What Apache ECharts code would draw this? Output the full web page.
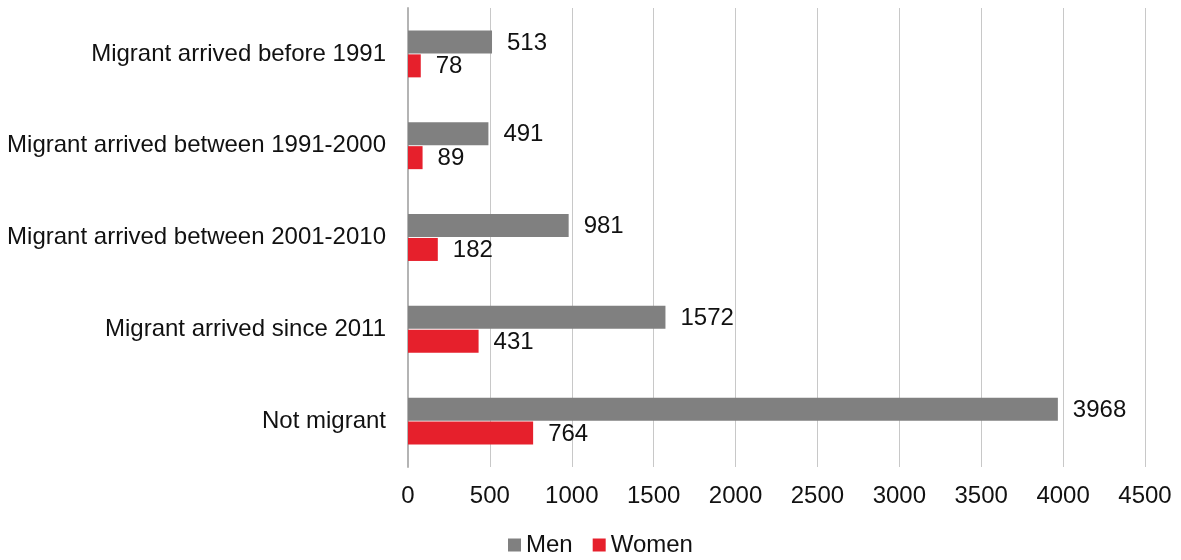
<!DOCTYPE html>
<html>
<head>
<meta charset="utf-8">
<script src="https://cdn.jsdelivr.net/npm/echarts@6/dist/echarts.min.js"></script>
<style>
  html, body { margin: 0; padding: 0; background: #ffffff; }
  #chart { width: 1181px; height: 560px; }
</style>
</head>
<body>
<div id="chart"></div>
<script>
// Employment counts by migration status, split by sex
const categories = [
  'Migrant arrived before 1991',
  'Migrant arrived between 1991-2000',
  'Migrant arrived between 2001-2010',
  'Migrant arrived since 2011',
  'Not migrant'
];
const menValues = [513, 491, 981, 1572, 3968];
const womenValues = [78, 89, 182, 431, 764];
const xTicks = [0, 500, 1000, 1500, 2000, 2500, 3000, 3500, 4000, 4500];

const FONT = '"Liberation Sans", Arial, sans-serif';
const chart = echarts.init(document.getElementById('chart'), null, { renderer: 'canvas' });

const labelStyle = {
  show: true,
  position: 'right',
  distance: 15,
  offset: [0, 1],
  fontFamily: FONT,
  fontSize: 24,
  color: '#111111'
};

chart.setOption({
  animation: false,
  backgroundColor: '#ffffff',
  grid: { left: 408, right: 36, top: 8, bottom: 93, containLabel: false },
  legend: {
    top: 533,
    left: 508,
    padding: 0,
    itemWidth: 13,
    itemHeight: 13,
    itemGap: 20,
    icon: 'rect',
    textStyle: { fontFamily: FONT, fontSize: 24, color: '#111111' },
    data: ['Men', 'Women']
  },
  xAxis: {
    type: 'value',
    min: xTicks[0],
    max: xTicks[xTicks.length - 1],
    interval: 500,
    axisLine: { show: false },
    axisTick: { show: false },
    splitLine: { show: true, lineStyle: { color: '#c8c8c8', width: 1 } },
    axisLabel: {
      fontFamily: FONT, fontSize: 24, color: '#111111', margin: 17,
      formatter: (v) => String(v)
    }
  },
  yAxis: {
    type: 'category',
    inverse: true,
    data: categories,
    axisLine: { show: true, lineStyle: { color: '#b4b4b4', width: 2 } },
    axisTick: { show: false },
    axisLabel: { fontFamily: FONT, fontSize: 24, color: '#111111', margin: 22 }
  },
  series: [
    {
      name: 'Men',
      type: 'bar',
      data: menValues,
      barWidth: 23,
      barGap: '4%',
      itemStyle: { color: '#808080' },
      label: labelStyle
    },
    {
      name: 'Women',
      type: 'bar',
      data: womenValues,
      barWidth: 23,
      barGap: '4%',
      itemStyle: { color: '#e6202c' },
      label: labelStyle
    }
  ]
});
</script>
</body>
</html>
